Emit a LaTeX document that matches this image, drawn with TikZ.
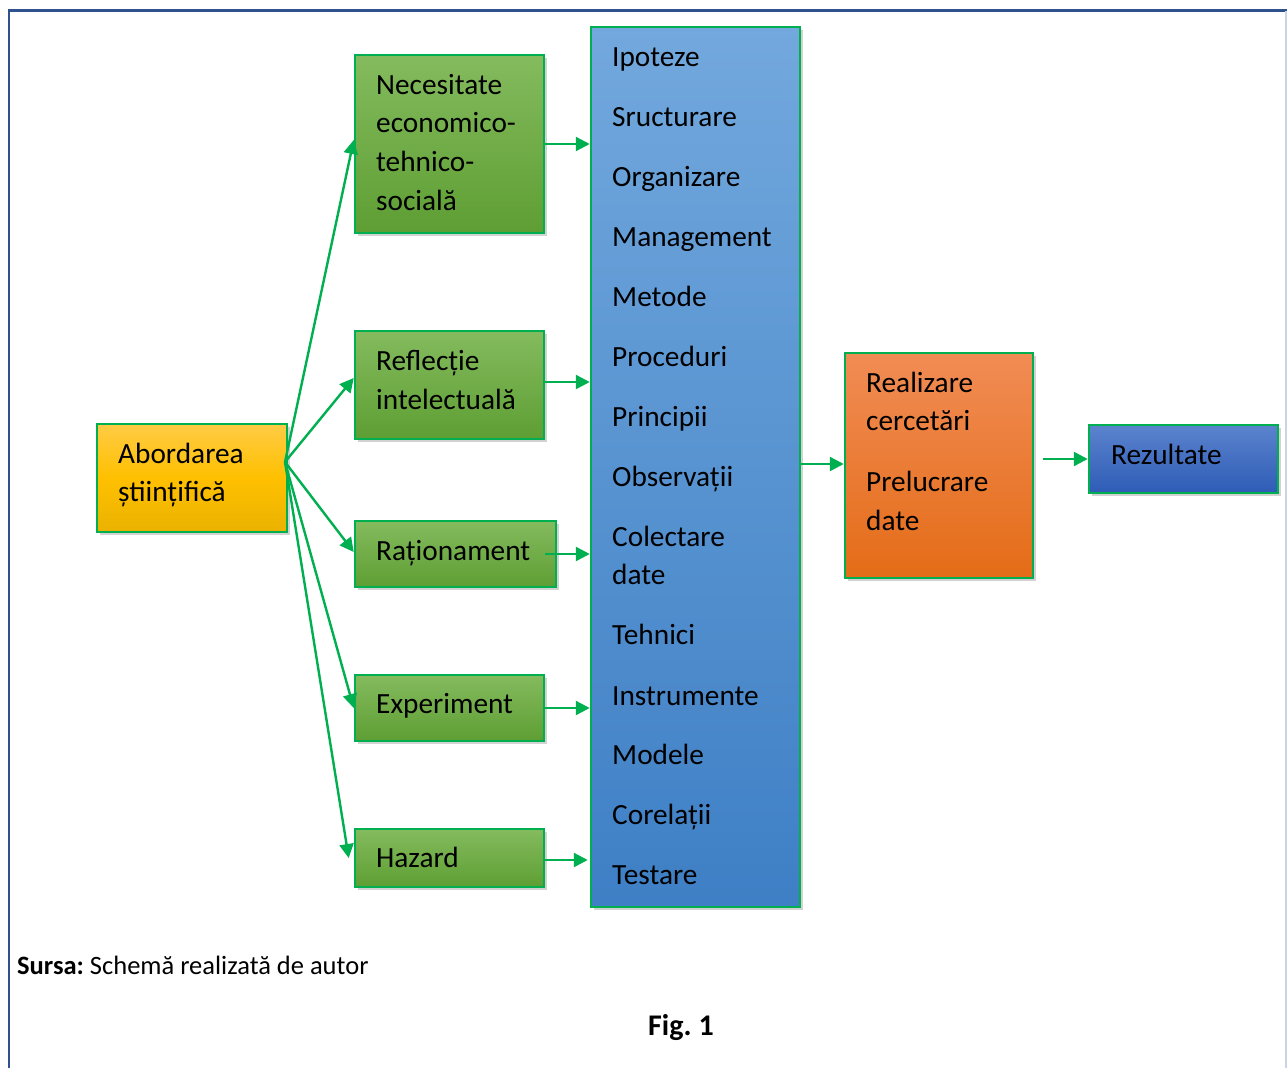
\documentclass[tikz,border=0pt]{standalone}
\usepackage{fontspec}
\setmainfont{Carlito}
\usetikzlibrary{arrows.meta,shadows}
\definecolor{edgegreen}{HTML}{00B050}
\definecolor{framec}{HTML}{2F528F}
\definecolor{gtop}{RGB}{132,187,94}
\definecolor{gbot}{RGB}{94,158,51}
\definecolor{ytop}{RGB}{255,203,69}
\definecolor{ymid}{RGB}{255,192,0}
\definecolor{ybot}{RGB}{234,178,0}
\definecolor{btop}{RGB}{114,168,221}
\definecolor{bbot}{RGB}{62,127,197}
\definecolor{otop}{RGB}{241,140,85}
\definecolor{obot}{RGB}{228,108,23}
\definecolor{rtop}{RGB}{91,131,205}
\definecolor{rbot}{RGB}{46,92,182}
\tikzset{
  box/.style={draw=edgegreen, line width=2.5pt, rectangle, inner sep=0pt,
    drop shadow={opacity=0.35, shadow xshift=3pt, shadow yshift=-3pt}},
  greenbox/.style={box, top color=gtop, bottom color=gbot},
  yellowbox/.style={box, top color=ytop, bottom color=ybot, middle color=ymid},
  bluebox/.style={box, top color=btop, bottom color=bbot},
  orangebox/.style={box, top color=otop, bottom color=obot},
  resbox/.style={box, top color=rtop, bottom color=rbot},
  txt/.style={anchor=base west, inner sep=0pt, font=\fontsize{29.3}{38}\selectfont},
  conn/.style={draw=edgegreen, line width=2.4pt, -{Triangle[length=14pt,width=14pt]}},
}
\begin{document}
\begin{tikzpicture}[x=1pt,y=-1pt]
\useasboundingbox (0,0) rectangle (1287,1068);
\fill[white] (0,0) rectangle (1287,1068);
% frame
\draw[framec, line width=3pt] (1287,10) -- (9,10);
\draw[framec, line width=2pt] (9,9) -- (9,1068);
\draw[framec!25, line width=1.5pt] (1286,11) -- (1286,1068);

% boxes
\node[yellowbox, minimum width=190pt, minimum height=108pt] (abo) at (192,478) {};
\node[greenbox, minimum width=189pt, minimum height=178pt] (nec) at (449.5,144) {};
\node[greenbox, minimum width=189pt, minimum height=108pt] (ref) at (449.5,385) {};
\node[greenbox, minimum width=201pt, minimum height=66pt] (rat) at (455.5,554) {};
\node[greenbox, minimum width=189pt, minimum height=66pt] (exp) at (449.5,708) {};
\node[greenbox, minimum width=189pt, minimum height=58pt] (haz) at (449.5,858) {};
\node[bluebox, minimum width=209pt, minimum height=880pt] (blu) at (695.5,467) {};
\node[orangebox, minimum width=188pt, minimum height=225pt] (ora) at (939,465.5) {};
\node[resbox, minimum width=189pt, minimum height=68pt] (rez) at (1183.5,459) {};

% texts
\node[txt] (ta1) at (118,463) {Abordarea};
\node[txt] (ta2) at (118,501) {științifică};
\node[txt] (tn1) at (376,94) {Necesitate};
\node[txt] (tn2) at (376,132) {economico-};
\node[txt] (tn3) at (376,171) {tehnico-};
\node[txt] (tn4) at (376,210) {socială};
\node[txt] (tr1) at (376,370) {Reflecție};
\node[txt] (tr2) at (376,409) {intelectuală};
\node[txt] (tra) at (376,560) {Raționament};
\node[txt] (tex) at (376,713) {Experiment};
\node[txt] (tha) at (376,867) {Hazard};
\node[txt] (tb1) at (612,66) {Ipoteze};
\node[txt] (tb2) at (612,126) {Sructurare};
\node[txt] (tb3) at (612,186) {Organizare};
\node[txt] (tb4) at (612,246) {Management};
\node[txt] (tb5) at (612,306) {Metode};
\node[txt] (tb6) at (612,366) {Proceduri};
\node[txt] (tb7) at (612,426) {Principii};
\node[txt] (tb8) at (612,486) {Observații};
\node[txt] (tb9) at (612,546) {Colectare};
\node[txt] (tb10) at (612,584) {date};
\node[txt] (tb11) at (612,644) {Tehnici};
\node[txt] (tb12) at (612,705) {Instrumente};
\node[txt] (tb13) at (612,764) {Modele};
\node[txt] (tb14) at (612,824) {Corelații};
\node[txt] (tb15) at (612,884) {Testare};
\node[txt] (to1) at (866,392) {Realizare};
\node[txt] (to2) at (866,430) {cercetări};
\node[txt] (to3) at (866,491) {Prelucrare};
\node[txt] (to4) at (866,530) {date};
\node[txt] (tz) at (1111,464) {Rezultate};

\node[anchor=base west, inner sep=0pt, font=\fontsize{26.5}{30}\selectfont] (src) at (17,974) {\textbf{Sursa:}\hspace{-2pt} Schemă realizată de autor};
\node[anchor=base, inner sep=0pt, font=\fontsize{30}{34}\selectfont\bfseries] (fig) at (681,1035) {Fig.\hspace{-2pt} 1};

% connectors
\coordinate (hub) at (285,462);
\draw[conn] (hub) -- (nec.west |- 0,140);
\draw[conn] (hub) -- (ref.west |- 0,378);
\draw[conn] (hub) -- (rat.west |- 0,552);
\draw[conn] (hub) -- (exp.west);
\draw[conn] (hub) -- ([xshift=-5pt]haz.west);

\draw[conn] (nec.east) -- (blu.west |- nec.east);
\draw[conn] (ref.east |- 0,382) -- (blu.west |- 0,382);
\draw[conn] ([xshift=-12pt]rat.east) -- (blu.west |- rat.east);
\draw[conn] (exp.east) -- (blu.west |- exp.east);
\draw[conn] ([xshift=-2pt]haz.east |- 0,860) -- ([xshift=-2pt]blu.west |- 0,860);
\draw[conn] (blu.east |- 0,464) -- (ora.west |- 0,464);
\draw[conn] ([xshift=9pt]ora.east |- rez.west) -- (rez.west);
\end{tikzpicture}
\end{document}
